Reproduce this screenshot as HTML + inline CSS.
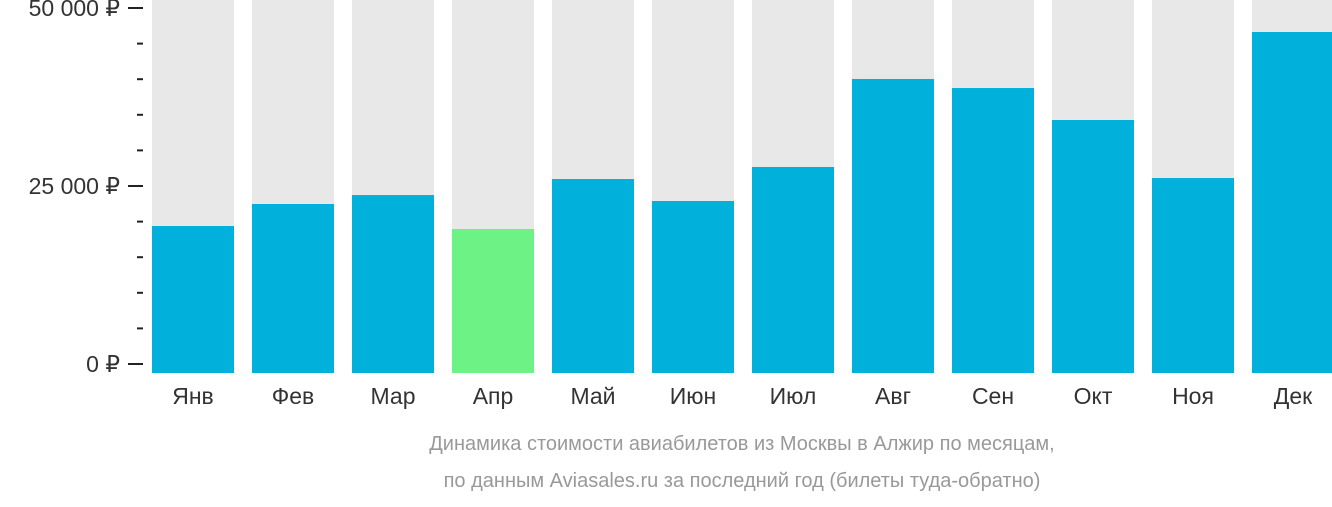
<!DOCTYPE html>
<html><head><meta charset="utf-8"><style>
body{margin:0;background:#fff;font-family:"Liberation Sans",sans-serif;}
svg text{font-family:"Liberation Sans","DejaVu Sans",sans-serif;}
</style></head><body>
<svg id="c" width="1332" height="502"></svg>
<script>
const categories=["Янв","Фев","Мар","Апр","Май","Июн","Июл","Авг","Сен","Окт","Ноя","Дек"];
const values=[19380,22470,23730,18960,25980,22890,27670,40030,38760,34270,26120,46630];
const highlight=[false,false,false,true,false,false,false,false,false,false,false,false];
const tickValues=[0,25000,50000];
const tickLabels=["0 ₽","25 000 ₽","50 000 ₽"];
const NS="http://www.w3.org/2000/svg";
const svg=document.getElementById('c');
const y0=364,y1=8,maxV=50000;
const y=v=>y0-(v/maxV)*(y0-y1);
const x=i=>152+i*100;
function mk(t,a){const e=document.createElementNS(NS,t);for(const k in a)e.setAttribute(k,a[k]);svg.appendChild(e);return e;}
categories.forEach((c,i)=>{
  const bg=mk('rect',{x:x(i),y:0,width:82,height:373,fill:'#e8e8e8'});
  
  
  const b=mk('rect',{x:x(i),y:y(values[i]),width:82,height:373-y(values[i]),fill:highlight[i]?'#6cf285':'#02b0dc'});
  
  
  const t=mk('text',{x:x(i)+41,y:404,'text-anchor':'middle','font-size':23,fill:'#333'});
  t.textContent=c;
  
  
});
for(let v=0;v<=maxV;v+=5000){
  const major=v%25000===0;
  const l=mk('line',{x1:major?128:137,x2:143,y1:y(v),y2:y(v),stroke:'#222','stroke-width':2});
  
  
}
tickValues.forEach((v,i)=>{
  const t=mk('text',{x:120,y:y(v)+8,'text-anchor':'end','font-size':23,fill:'#333'});
  t.textContent=tickLabels[i];
  
  
});
[["Динамика стоимости авиабилетов из Москвы в Алжир по месяцам,",450],["по данным Aviasales.ru за последний год (билеты туда-обратно)",487]].forEach(([s,yy])=>{
  const t=mk('text',{x:742,y:yy,'text-anchor':'middle','font-size':20,fill:'#999'});
  t.textContent=s;
  
  
});
</script>
</body></html>
